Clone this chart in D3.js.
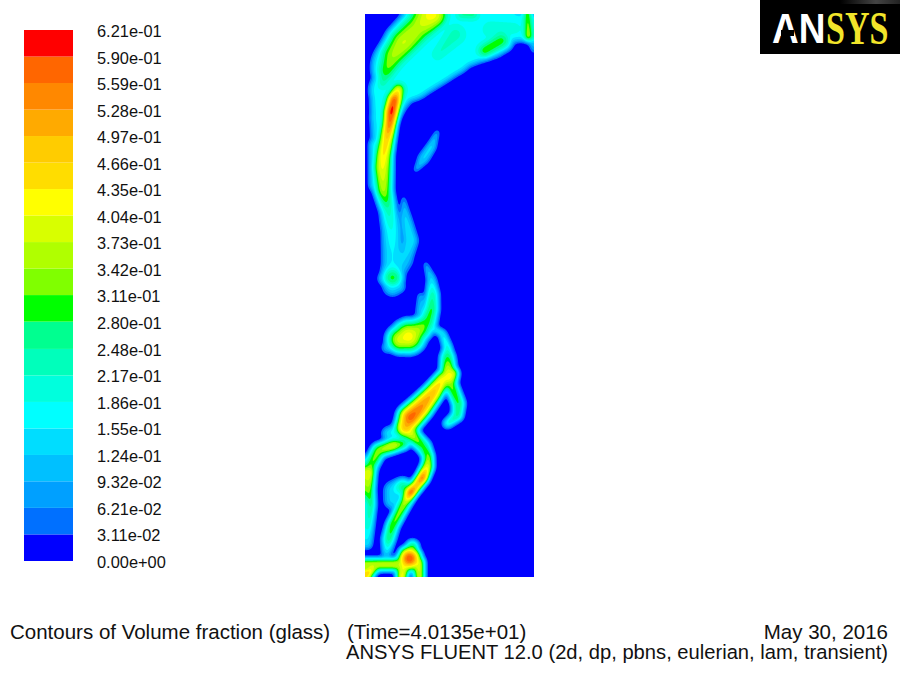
<!DOCTYPE html>
<html>
<head>
<meta charset="utf-8">
<script src="https://cdn.jsdelivr.net/npm/d3@7"></script>
<style>
  html, body { margin: 0; padding: 0; background: #fff; }
  text { font-family: "Liberation Sans", Arial, sans-serif; fill: #111; }
</style>
</head>
<body>
<script>
// legend, top to bottom
const legendLabels = ['6.21e-01', '5.90e-01', '5.59e-01', '5.28e-01', '4.97e-01', '4.66e-01', '4.35e-01',
  '4.04e-01', '3.73e-01', '3.42e-01', '3.11e-01', '2.80e-01', '2.48e-01', '2.17e-01', '1.86e-01',
  '1.55e-01', '1.24e-01', '9.32e-02', '6.21e-02', '3.11e-02', '0.00e+00'];
// band colours, lowest band first
const bandColors = ['#0000ff', '#0070ff', '#00a0ff', '#00c0ff', '#00ddff', '#00ffff', '#00ffdd',
  '#00ffbb', '#00ff90', '#00ff00', '#80ff00', '#b0ff00', '#d8ff00', '#ffff00', '#ffdd00',
  '#ffcc00', '#ffaa00', '#ff8800', '#ff6600', '#ff0000'];

// glass volume fraction, as ridges of [x, y, half width, value]
const plumeBody = [[167, 13, 15, .17], [142, 12, 18, .18], [122, 18, 28, .18], [98, 23, 31, .18], [78, 28, 37, .18],
  [60, 36, 40, .18], [40, 53, 36, .18], [26, 76, 24, .18], [19, 103, 16, .17], [15, 125, 11, .16]];
const plumeCrest = [[66, 0, 20, .43], [52, 14, 20, .36], [38, 28, 19, .38], [28, 41, 17, .35], [21, 56, 13, .31], [17, 70, 8, .24]];
const plumeTop = [[96, 0, 8, .26], [108, 0, 8, .27]];
const plumeMid = [[90, 20, 20, .23], [72, 40, 11, .22]];
const plumeRight = [[125, 15, 16, .22], [150, 14, 12, .21]];
const plumeGreen = [[119, 36, 10, .31], [136, 26, 12, .3]];
const cornerStreak = [[162, 0, 5, .34], [163, 22, 6, .37]];
const cornerTail = [[168, 24, 7, .15], [169, 36, 3, .1]];
const mainStreak = [[33, 75, 8, .42], [29, 85, 9, .6], [26, 97, 9, .63], [24, 110, 8, .58], [21, 125, 9, .48],
  [18, 141, 10, .45], [17, 153, 11, .42], [18, 176, 10, .36], [23, 196, 9, .24], [26, 216, 10, .19],
  [27, 236, 11, .16], [27, 250, 11, .16], [27, 263, 12, .3], [27, 272, 10, .15]];
const streakSide = [[10, 130, 7, .18], [11, 170, 8, .16]];
const tailBlob = [[19, 264, 7, .14], [33, 272, 7, .14]];
const tailBridge = [[28, 236, 10, .14], [38, 245, 10, .13], [30, 258, 10, .13]];
const smallFlame = [[72, 117, 2, .1], [66, 132, 5, .15], [58, 144, 6, .14], [50, 156, 2, .1]];
const rightFlame = [[38, 183, 1.5, .1], [40, 203, 6, .14], [45, 226, 8, .16], [40, 243, 8, .13], [32, 255, 6, .12]];
const crescent = [[60, 249, 2, .1], [66, 265, 5, .15], [67, 280, 7, .25], [66, 295, 8, .3], [62, 307, 10, .3],
  [55, 314, 13, .34], [43, 322, 18, .43], [35, 325, 15, .4], [22, 333, 6, .12]];
const crescentSide = [[55, 281, 3, .1], [56, 297, 6, .13]];
const thinLink = [[68, 314, 3, .2], [77, 319, 4, .18], [82, 333, 5, .22], [82, 343, 8, .3], [83, 363, 9, .45]];
const rightBranch = [[87, 359, 7, .43], [85, 369, 7, .35], [93, 389, 7, .3], [92, 401, 6, .28], [82, 409, 5, .21]];
const diagonal = [[78, 364, 9, .43], [67, 379, 11, .5], [55, 393, 13, .55], [45, 403, 14, .59], [40, 413, 12, .5]];
const lowerStreak = [[42, 415, 10, .45], [50, 424, 8, .35], [58, 432, 8, .3], [63, 442, 6, .35], [62, 452, 7, .42],
  [57, 463, 7, .59], [51, 471, 7, .5], [45, 478, 7, .61], [40, 487, 7, .38], [35, 496, 7, .35], [27, 511, 7, .33],
  [23, 525, 7, .28], [21, 538, 5, .15]];
const upperArc = [[23, 419, 7, .15], [38, 416, 8, .25]];
const leftArc = [[38, 429, 7, .3], [28, 431, 8, .4], [13, 436, 8, .35], [5, 451, 8, .32], [3, 458, 8, .43],
  [3, 475, 7, .35], [5, 490, 6, .28], [3, 510, 6, .22], [2, 530, 5, .15]];
const midPatch = [[37, 473, 10, .28], [28, 476, 10, .15], [27, 486, 9, .14]];
const floorBand = [[0, 550, 7, .38], [15, 550, 7, .39], [32, 550, 7, .4]];
const floorLeft = [[8, 554, 6, .4], [2, 559, 6, .52]];
const tower = [[47, 532, 7, .3], [44, 544, 13, .61], [38, 552, 8, .42]];
const towerLegRight = [[53, 548, 7, .42], [54, 563, 6, .4]];
const towerLegMid = [[38, 552, 8, .42], [36, 563, 6, .45]];
const ridges = [plumeCrest, plumeTop, plumeMid, plumeRight, plumeGreen, cornerStreak, cornerTail, mainStreak,
  streakSide, tailBlob, tailBridge, smallFlame, rightFlame, crescent, crescentSide, thinLink, rightBranch,
  diagonal, lowerStreak, upperArc, leftArc, midPatch, floorBand, floorLeft, tower, towerLegRight, towerLegMid];

const width = 900;
const height = 675;
const nx = 169;
const ny = 563;

// stamp one ridge on the grid, highest ridge wins. ramp is the edge width,
// 0 means the ridge falls off over its whole half width
function stampRidge(data, ridge, ramp, grow) {
  for (let k = 0; k < ridge.length - 1; k++) {
    const [x0, y0, w0, v0] = ridge[k];
    const [x1, y1, w1, v1] = ridge[k + 1];
    const pad = Math.max(w0, w1) * grow + 1;
    const ax = Math.max(0, Math.floor(Math.min(x0, x1) - pad));
    const bx = Math.min(nx - 1, Math.ceil(Math.max(x0, x1) + pad));
    const ay = Math.max(0, Math.floor(Math.min(y0, y1) - pad));
    const by = Math.min(ny - 1, Math.ceil(Math.max(y0, y1) + pad));
    const dx = x1 - x0;
    const dy = y1 - y0;
    const len2 = dx * dx + dy * dy;
    for (let j = ay; j <= by; j++) {
      for (let i = ax; i <= bx; i++) {
        const t = Math.max(0, Math.min(1, ((i - x0) * dx + (j - y0) * dy) / len2));
        const d = Math.hypot(i - x0 - t * dx, j - y0 - t * dy);
        const w = (w0 + t * (w1 - w0)) * grow;
        const s = Math.min(1, (w - d) / (ramp || w));
        if (s <= 0) continue;
        const f = (v0 + t * (v1 - v0)) * s * (2 - s);
        if (f > data[j * nx + i]) data[j * nx + i] = f;
      }
    }
  }
}

function buildField() {
  const data = new Float64Array(nx * ny);
  stampRidge(data, plumeBody, 9, 1);
  for (const ridge of ridges) stampRidge(data, ridge, 0, 1.15);
  d3.blur2({ data, width: nx, height: ny }, 1.5);
  return data;
}

const svg = d3.select('body').append('svg')
  .attr('width', width)
  .attr('height', height)
  .style('display', 'block');

const levels = legendLabels.map(Number).reverse();

// contour plot
const x = d3.scaleLinear([0, nx], [365, 534]);
const y = d3.scaleLinear([0, ny], [14, 577]);
const project = d3.geoTransform({
  point(px, py) { this.stream.point(x(px), y(py)); }
});
const path = d3.geoPath(project);

svg.append('clipPath').attr('id', 'plot-clip')
  .append('rect')
  .attr('x', x(0))
  .attr('y', y(0))
  .attr('width', x(nx) - x(0))
  .attr('height', y(ny) - y(0));

const plot = svg.append('g').attr('clip-path', 'url(#plot-clip)');

plot.append('rect')
  .attr('x', x(0))
  .attr('y', y(0))
  .attr('width', x(nx) - x(0))
  .attr('height', y(ny) - y(0))
  .attr('fill', bandColors[0]);

const contours = d3.contours()
  .size([nx, ny])
  .thresholds(levels.slice(1, -1))(buildField());

plot.selectAll('path')
  .data(contours)
  .join('path')
  .attr('d', path)
  .attr('fill', (d, i) => bandColors[i + 1]);

// legend
const legendY = d3.scaleLinear([0, levels[levels.length - 1]], [561, 30]);

svg.append('g').selectAll('rect')
  .data(bandColors)
  .join('rect')
  .attr('x', 24)
  .attr('width', 49)
  .attr('y', (d, i) => i === bandColors.length - 1 ? 30 : legendY(levels[i + 1]))
  .attr('height', (d, i) => legendY(levels[i]) - (i === bandColors.length - 1 ? 30 : legendY(levels[i + 1])))
  .attr('fill', d => d);

svg.append('g').selectAll('text')
  .data(legendLabels)
  .join('text')
  .attr('x', 97)
  .attr('y', d => legendY(+d) + 7)
  .style('font-size', '16.4px')
  .text(d => d);

// footer
const footer = svg.append('g').style('font-size', '20.5px');
footer.append('text').attr('x', 10).attr('y', 639).text('Contours of Volume fraction (glass)');
footer.append('text').attr('x', 347).attr('y', 639).text('(Time=4.0135e+01)');
footer.append('text').attr('x', 888).attr('y', 639).attr('text-anchor', 'end').text('May 30, 2016');
footer.append('text').attr('x', 346).attr('y', 659)
  .attr('textLength', 542).attr('lengthAdjust', 'spacingAndGlyphs')
  .text('ANSYS FLUENT 12.0 (2d, dp, pbns, eulerian, lam, transient)');

// logo
const logo = svg.append('g');
const logoShade = svg.append('defs').append('linearGradient').attr('id', 'logo-shade');
logoShade.append('stop').attr('offset', '0%').attr('stop-color', '#000');
logoShade.append('stop').attr('offset', '60%').attr('stop-color', '#444');
logoShade.append('stop').attr('offset', '100%').attr('stop-color', '#222');
logo.append('rect').attr('x', 760).attr('y', 0).attr('width', 140).attr('height', 54).attr('fill', '#000');
logo.append('rect').attr('x', 840).attr('y', 0).attr('width', 60).attr('height', 4).attr('fill', 'url(#logo-shade)');
logo.append('text')
  .attr('transform', 'translate(772,43) scale(0.88,1)')
  .style('font-size', '42px').style('font-weight', 'bold').style('fill', '#fff')
  .text('AN');
logo.append('rect').attr('x', 781).attr('y', 30).attr('width', 13).attr('height', 6).attr('fill', '#000');
logo.append('text')
  .attr('transform', 'translate(826,44) scale(0.74,1)')
  .style('font-family', '"Liberation Serif", serif').style('font-size', '46px').style('font-weight', 'bold').style('fill', '#f2e52a')
  .text('SYS');
</script>
</body>
</html>
